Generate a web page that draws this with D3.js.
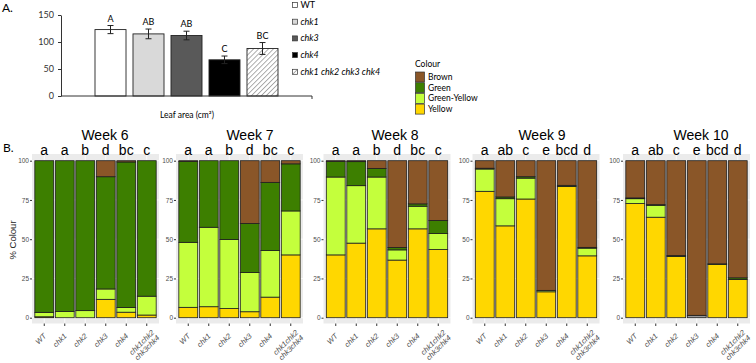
<!DOCTYPE html>
<html><head><meta charset="utf-8">
<script src="https://cdnjs.cloudflare.com/ajax/libs/d3/7.8.5/d3.min.js"></script>
<style>
body { margin:0; background:#fff; }
svg { display:block; font-family: Lato, "Open Sans", sans-serif; }
.gg text { font-family: "Liberation Sans", Arial, sans-serif; }
</style>
</head><body>
<svg id="chart" width="756" height="363"></svg>
<script>
// ---- Panel A : leaf area ----
const genotypesA = ["WT", "chk1", "chk3", "chk4", "chk1 chk2 chk3 chk4"];
const leafArea   = [123, 115, 112, 67, 88];
const leafErr    = [7.5, 9, 8, 7, 11];
const leafLetters = ["A", "AB", "AB", "C", "BC"];
const leafTicks  = [0, 50, 100, 150];

// ---- Panel B : colour scores per week ----
const weeks = ["Week 6", "Week 7", "Week 8", "Week 9", "Week 10"];
const genotypesB = ["WT", "chk1", "chk2", "chk3", "chk4", "chk1chk2|chk3chk4"];
const colourNames = ["Brown", "Green", "Green-Yellow", "Yellow"];
const pctTicks = [0, 25, 50, 75, 100];
const sigLetters = [
  ["a", "a", "b", "d", "bc", "c"],
  ["a", "a", "b", "d", "bc", "c"],
  ["a", "a", "b", "d", "bc", "c"],
  ["a", "ab", "c", "e", "bcd", "d"],
  ["a", "ab", "c", "e", "bcd", "d"]
];
// one row per week, one value per genotype (%)
const yellowPct = [
  [0.6, 0, 0, 11.7, 3.5, 1.7],
  [6.6, 7, 5.8, 3.8, 13.1, 40],
  [40, 47.5, 56.6, 36.7, 56.6, 43.4],
  [80.5, 58.5, 75.6, 16.5, 83.5, 39.4],
  [72.7, 64, 39, 0, 34, 24.3]
];
const greenYellowPct = [
  [2.8, 4, 4.5, 6.6, 3, 12],
  [41.4, 50.6, 44, 25, 29.7, 28],
  [49.6, 36.6, 33, 6.5, 14.4, 10.2],
  [14.2, 17.3, 13.3, 0.9, 0, 4.9],
  [3.1, 7.6, 0, 0, 0, 0]
];
const greenPct = [
  [96.6, 96, 95.5, 71.5, 92.7, 86.3],
  [51.5, 42.4, 50.2, 31.2, 43.4, 30],
  [10, 15.3, 5.5, 1.5, 1.5, 8.3],
  [0.5, 1.1, 0.9, 0, 0.8, 0.5],
  [0.5, 0.4, 0.6, 0, 0.3, 1.1]
];
const brownPct = [
  [0, 0, 0, 10.2, 0.8, 0],
  [0.5, 0, 0, 40, 13.8, 2],
  [0.4, 0.6, 4.9, 55.3, 27.5, 38.1],
  [4.8, 23.1, 10.2, 82.6, 15.7, 55.2],
  [23.7, 28, 60.4, 98.5, 65.7, 74.6]
];
const unscoredPct = [
  [0, 0, 0, 0, 0, 0],
  [0, 0, 0, 0, 0, 0],
  [0, 0, 0, 0, 0, 0],
  [0, 0, 0, 0, 0, 0],
  [0, 0, 0, 1.5, 0, 0]
];

const fillColour = {
  "Brown": "#8a5628",
  "Green": "#3d7f00",
  "Green-Yellow": "#c4ff3c",
  "Yellow": "#ffd700",
  "NA": "#9a9a9a"
};

const svg = d3.select("#chart");

// hatch pattern for the quadruple mutant
const defs = svg.append("defs");
const pat = defs.append("pattern").attr("id", "hatch")
  .attr("patternUnits", "userSpaceOnUse").attr("width", 3.5).attr("height", 3.5)
  .attr("patternTransform", "rotate(45)");
pat.append("rect").attr("width", 3.5).attr("height", 3.5).attr("fill", "#fff");
pat.append("line").attr("x1", 0).attr("y1", 0).attr("x2", 0).attr("y2", 3.5)
  .attr("stroke", "#6d6d6d").attr("stroke-width", 1.1);
const fillA = ["#ffffff", "#d9d9d9", "#595959", "#000000", "url(#hatch)"];

// ================= Panel A =================
const gA = svg.append("g");
gA.append("text").attr("x", 2).attr("y", 12).attr("font-size", 12).text("A.");

const yA = d3.scaleLinear().domain([0, 150]).range([96, 15]);
const xA = d3.scaleBand().domain(genotypesA).range([95, 278]).paddingInner(0.184).paddingOuter(0);

const yAxisA = gA.append("g").attr("transform", "translate(61,0)")
  .call(d3.axisLeft(yA).tickValues(leafTicks).tickSize(3).tickSizeOuter(0));
yAxisA.selectAll("text").attr("font-size", 9).attr("font-family", "Lato").attr("fill", "#333").attr("x", -7);
yAxisA.selectAll("line, path").attr("stroke", "#333");

gA.selectAll("rect.leaf").data(leafArea).join("rect").attr("class", "leaf")
  .attr("x", (d, i) => xA(genotypesA[i]))
  .attr("width", xA.bandwidth())
  .attr("y", d => yA(d))
  .attr("height", d => yA(0) - yA(d))
  .attr("fill", (d, i) => fillA[i])
  .attr("stroke", "#222").attr("stroke-width", 0.9);

// x axis line
gA.append("line").attr("x1", 61).attr("x2", 312).attr("y1", yA(0)).attr("y2", yA(0)).attr("stroke", "#333");
gA.append("line").attr("x1", 312).attr("x2", 312).attr("y1", yA(0)).attr("y2", yA(0) + 3).attr("stroke", "#333");

// error bars
leafArea.forEach((v, i) => {
  const cx = xA(genotypesA[i]) + xA.bandwidth() / 2;
  const e = leafErr[i];
  gA.append("line").attr("x1", cx).attr("x2", cx).attr("y1", yA(v - e)).attr("y2", yA(v + e)).attr("stroke", "#222");
  [v - e, v + e].forEach(t => gA.append("line").attr("x1", cx - 3).attr("x2", cx + 3)
      .attr("y1", yA(t)).attr("y2", yA(t)).attr("stroke", "#222"));
  gA.append("text").attr("x", cx).attr("y", yA(v + e) - 4).attr("text-anchor", "middle")
    .attr("font-size", 9).text(leafLetters[i]);
});

gA.append("text").attr("x", 187).attr("y", 118).attr("text-anchor", "middle").attr("font-size", 8.5)
  .text("Leaf area (cm²)");

// legend A
const legA = gA.append("g");
genotypesA.forEach((g, i) => {
  const cy = 5 + i * 16.7;
  legA.append("rect").attr("x", 292.5).attr("y", cy - 2.5).attr("width", 5).attr("height", 5)
    .attr("fill", fillA[i]).attr("stroke", "#333").attr("stroke-width", 0.7);
  legA.append("text").attr("x", 300.5).attr("y", cy + 3).attr("font-size", 9)
    .attr("font-style", g === "WT" ? "normal" : "italic").text(g);
});

// colour legend
const legC = svg.append("g");
legC.append("text").attr("x", 415).attr("y", 67).attr("font-size", 8.5).text("Colour");
colourNames.forEach((c, i) => {
  const y0 = 72 + i * 10.7;
  legC.append("rect").attr("x", 415.5).attr("y", y0).attr("width", 9).attr("height", 10)
    .attr("fill", fillColour[c]).attr("stroke", "#333").attr("stroke-width", 0.7);
  legC.append("text").attr("x", 428).attr("y", y0 + 8).attr("font-size", 8.5).text(c);
});

// ================= Panel B =================
svg.append("text").attr("x", 3).attr("y", 152).attr("font-size", 12).text("B.");

const panelLeft = [32, 176, 323.5, 472.5, 623];
const titleCenter = [105, 250, 395, 542, 701];
const panelW = 127;
const yB = d3.scaleLinear().domain([0, 100]).range([317.7, 160.7]);
const keys = ["NA", "Yellow", "Green-Yellow", "Green", "Brown"];

weeks.forEach((wk, w) => {
  const left = panelLeft[w];
  const g = svg.append("g").attr("class", "gg");
  const xB = d3.scaleBand().domain(genotypesB).range([left + 2, left + 125])
    .paddingInner(0.08).paddingOuter(0.04);

  // background panel
  g.append("rect").attr("x", left).attr("y", 154).attr("width", panelW).attr("height", 169.5).attr("fill", "#ebebeb");
  pctTicks.forEach(t => g.append("line").attr("x1", left).attr("x2", left + panelW)
    .attr("y1", yB(t)).attr("y2", yB(t)).attr("stroke", "#fff").attr("stroke-width", 0.8));
  genotypesB.forEach(gt => {
    const cx = xB(gt) + xB.bandwidth() / 2;
    g.append("line").attr("x1", cx).attr("x2", cx).attr("y1", 154).attr("y2", 323.5).attr("stroke", "#fff").attr("stroke-width", 0.8);
  });

  // stacked bars
  const rows = genotypesB.map((gt, i) => ({
    genotype: gt,
    "NA": unscoredPct[w][i],
    "Yellow": yellowPct[w][i],
    "Green-Yellow": greenYellowPct[w][i],
    "Green": greenPct[w][i],
    "Brown": brownPct[w][i]
  }));
  const series = d3.stack().keys(keys)(rows);
  g.selectAll("g.layer").data(series).join("g").attr("class", "layer")
    .attr("fill", d => fillColour[d.key])
    .selectAll("rect").data(d => d.filter(s => s[1] - s[0] > 0)).join("rect")
    .attr("x", d => xB(d.data.genotype))
    .attr("width", xB.bandwidth())
    .attr("y", d => yB(d[1]))
    .attr("height", d => yB(d[0]) - yB(d[1]))
    .attr("stroke", "#1e1e1e").attr("stroke-width", 0.8);

  // y axis
  const ya = g.append("g").attr("transform", `translate(${left},0)`)
    .call(d3.axisLeft(yB).tickValues(pctTicks).tickSize(2));
  ya.select(".domain").remove();
  ya.selectAll("line").attr("stroke", "#333");
  ya.selectAll("text").attr("font-size", 6.5).attr("fill", "#4d4d4d").attr("x", -3);

  // x ticks and labels
  genotypesB.forEach(gt => {
    const cx = xB(gt) + xB.bandwidth() / 2;
    g.append("line").attr("x1", cx).attr("x2", cx).attr("y1", 323.5).attr("y2", 326).attr("stroke", "#333");
    const lines = gt.split("|");
    const ax = lines.length > 1 ? cx + 8 : cx + 2.5;
    const ay = lines.length > 1 ? 333 : 336.5;
    const t = g.append("text").attr("transform", `translate(${ax},${ay}) rotate(-45)`)
      .attr("text-anchor", "end").attr("font-size", 7.5).attr("font-style", "italic").attr("fill", "#4d4d4d");
    lines.forEach((l, k) => t.append("tspan").attr("x", 0).attr("dy", k === 0 ? 0 : 7.5).text(l));
  });

  // title and letters
  g.append("text").attr("x", titleCenter[w]).attr("y", 140).attr("text-anchor", "middle")
    .attr("font-size", 14).attr("font-family", "Lato").text(wk);
  sigLetters[w].forEach((s, i) => {
    const cx = xB(genotypesB[i]) + xB.bandwidth() / 2;
    g.append("text").attr("x", cx).attr("y", 155).attr("text-anchor", "middle")
      .attr("font-size", 14).attr("font-family", "Lato").text(s);
  });
});

svg.append("text").attr("transform", "translate(16,240) rotate(-90)").attr("text-anchor", "middle")
  .attr("font-size", 9.5).attr("font-family", "Liberation Sans, Arial").attr("fill", "#222").text("% Colour");
</script>
</body></html>
